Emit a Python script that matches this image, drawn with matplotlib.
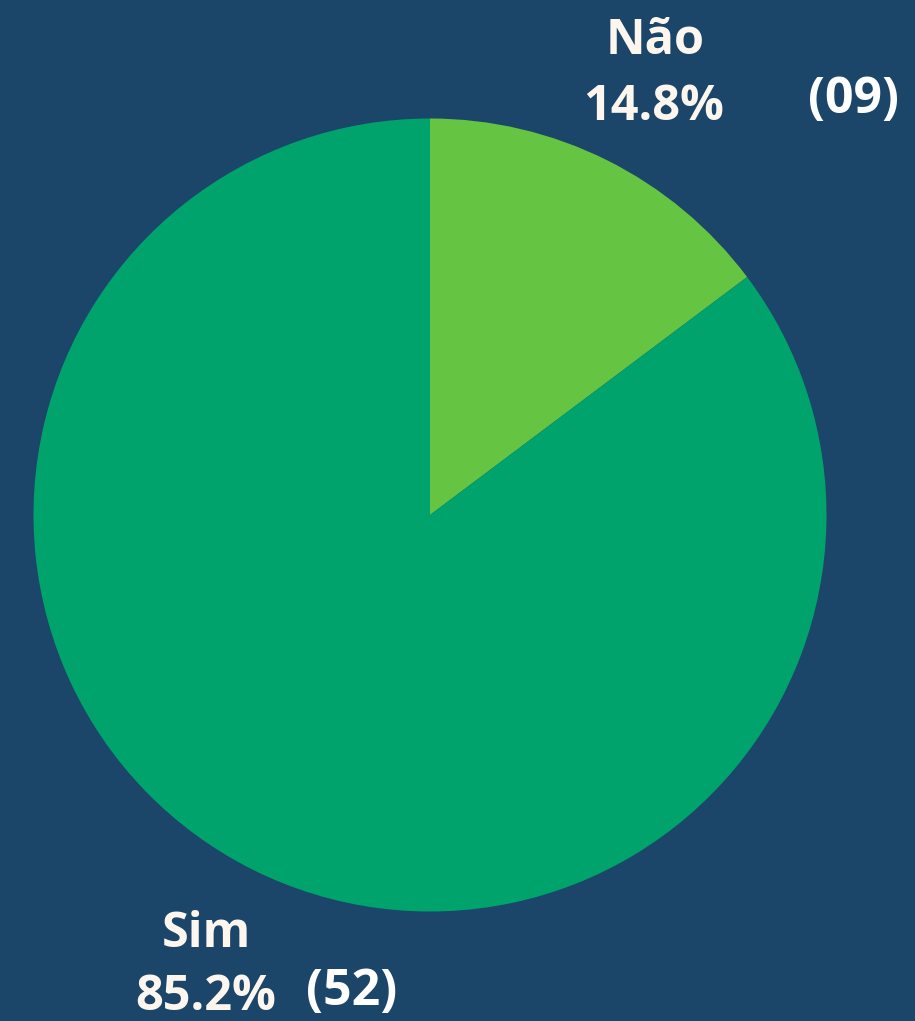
import matplotlib.pyplot as plt

# data
labels = ["Não", "Sim"]
counts = [9, 52]
colors = ["#66C443", "#00A36C"]

bg = "#1B4669"
txt_col = "#FDF6EE"

total = sum(counts)
pcts = [100.0 * c / total for c in counts]

fig = plt.figure(figsize=(9.15, 10.21), dpi=100)
fig.patch.set_facecolor(bg)
ax = fig.add_axes([0, 0, 1, 1])
ax.set_facecolor(bg)

ax.pie(counts, colors=colors, startangle=90, counterclock=False,
       center=(430, 506), radius=396.5, frame=True,
       wedgeprops=dict(linewidth=0))
ax.set_xlim(0, 915)
ax.set_ylim(0, 1021)
ax.set_aspect("equal")
ax.axis("off")

# label baselines (pixel-ish coords, y from bottom)
name_pos = [(655, 967), (206, 74)]
pct_pos = [(654, 901), (206, 11)]
cnt_pos = [(854, 908), (352, 16)]

for i in range(len(labels)):
    x, y = name_pos[i]
    ax.text(x, y, labels[i], ha="center", va="baseline", color=txt_col,
            fontsize=35, fontweight="bold", family="Open Sans")
    x, y = pct_pos[i]
    ax.text(x, y, "%.1f%%" % pcts[i], ha="center", va="baseline", color=txt_col,
            fontsize=35, fontweight="bold", family="Open Sans")
    x, y = cnt_pos[i]
    ax.text(x, y, "(%02d)" % counts[i], ha="center", va="baseline", color="white",
            fontsize=36, fontweight="bold", family="Open Sans")

fig.savefig("out.png", dpi=100, facecolor=bg)
